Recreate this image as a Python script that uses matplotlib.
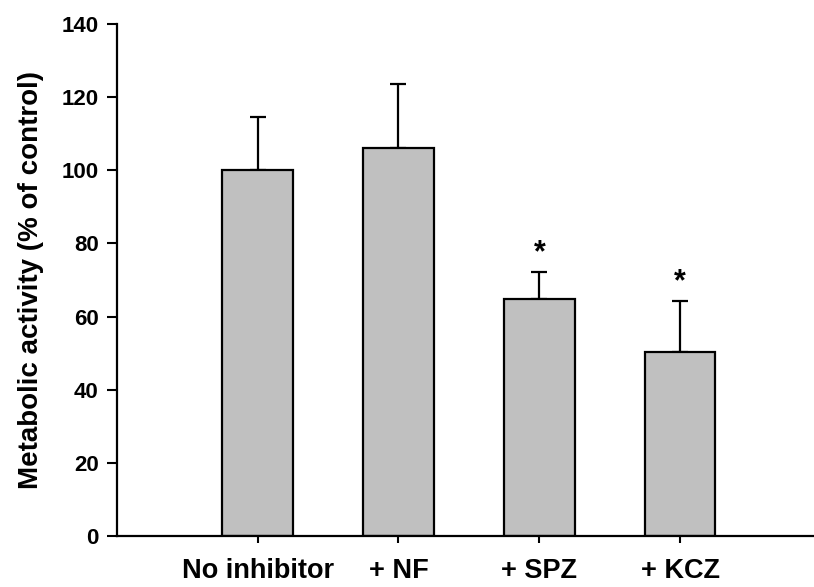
import numpy as np
import matplotlib
matplotlib.use("Agg")
import matplotlib.pyplot as plt

plt.rcParams['font.family'] = ['Liberation Sans', 'DejaVu Sans']
plt.rcParams['font.weight'] = 'bold'

categories = ["No inhibitor", "+ NF", "+ SPZ", "+ KCZ"]
activity = [100.0, 106.0, 64.7, 50.2]
err_up = [14.5, 17.7, 7.6, 14.1]
signif = [False, False, True, True]

fig = plt.figure(figsize=(8.14, 5.87), dpi=100)
ax = fig.add_axes([0.1434, 0.0874, 0.8566, 0.8712])

x = np.arange(len(categories))
ax.bar(x, activity, width=0.5, color="#c0c0c0", edgecolor="black", linewidth=1.6, zorder=2)
ax.errorbar(x, activity, yerr=[np.zeros(len(x)), err_up], fmt="none",
            ecolor="black", elinewidth=1.6, capsize=5.8, capthick=1.6, zorder=1)

for xi, v, e, s in zip(x, activity, err_up, signif):
    if s:
        ax.text(xi, v + e + 5.0, "*", ha="center", va="center", fontsize=22, fontweight="bold")

ax.set_xlim(-1, 3.95)
ax.set_ylim(0, 140)
ax.set_yticks(range(0, 141, 20))
ax.set_xticks(x)
ax.set_xticklabels(categories, fontsize=19.5, fontweight="bold")
ax.tick_params(axis="y", labelsize=16, width=1.5, length=7, pad=6)
ax.tick_params(axis="x", width=1.5, length=5, pad=11)
for lab in ax.get_yticklabels():
    lab.set_fontweight("bold")

ax.set_ylabel("Metabolic activity (% of control)", fontsize=20, fontweight="bold")
ax.yaxis.set_label_coords(-0.105, 0.5)

ax.spines["top"].set_visible(False)
ax.spines["right"].set_visible(False)
ax.spines["left"].set_linewidth(1.6)
ax.spines["bottom"].set_linewidth(1.6)

fig.savefig("out.png", dpi=100)
